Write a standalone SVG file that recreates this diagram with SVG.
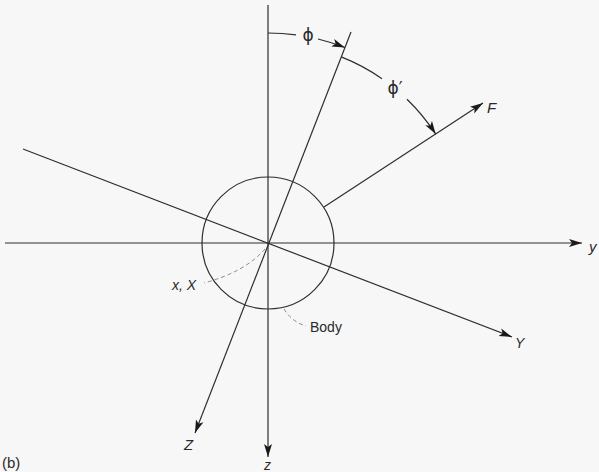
<svg xmlns="http://www.w3.org/2000/svg" width="599" height="472" viewBox="0 0 599 472">
<style>
.ln{fill:none;stroke:#2e2e2e;stroke-width:1.2}
.ds{fill:none;stroke:#8a8a8a;stroke-width:1;stroke-dasharray:4 3}
.t{font-family:"Liberation Sans",Arial,sans-serif;fill:#2a2a2a}
.ph{font-family:"DejaVu Sans",sans-serif;fill:#2a2a2a}
.i{font-style:italic}
</style>
<defs>
<marker id="ah" markerUnits="userSpaceOnUse" markerWidth="14" markerHeight="10" refX="13" refY="4" orient="auto" viewBox="0 0 14 8">
<path d="M0,0 L13,4 L0,8 L3,4 Z" fill="#1a1a1a"/>
</marker>
</defs>
<rect width="599" height="472" fill="#f7f7f7"/>
<g id="connectors">
<line class="ln" x1="268" y1="5" x2="268" y2="457" marker-end="url(#ah)"/>
<line class="ln" x1="5" y1="243" x2="582" y2="243" marker-end="url(#ah)"/>
<line class="ln" x1="351" y1="32" x2="195" y2="433" marker-end="url(#ah)"/>
<line class="ln" x1="23" y1="149" x2="512" y2="337" marker-end="url(#ah)"/>
<line class="ln" x1="324" y1="207" x2="483" y2="103" marker-end="url(#ah)"/>
<path class="ln" d="M268,33 A210,210 0 0 1 296,34.9"/>
<path class="ln" d="M318,39 A210,210 0 0 1 344.9,47.5" marker-end="url(#ah)"/>
<path class="ln" d="M341.2,56.9 A200,200 0 0 1 382,78.7"/>
<path class="ln" d="M407,99.2 A200,200 0 0 1 435.7,134.1" marker-end="url(#ah)"/>
<path class="ds" d="M265,249 Q245,272 204,283"/>
<path class="ds" d="M284,309 Q292,322 306,326"/>
</g>
<g id="body">
<circle class="ln" cx="268" cy="243" r="66"/>
<text class="t" x="310" y="332" font-size="14">Body</text>
</g>
<g id="labels">
<text class="ph" x="308" y="41" font-size="17" text-anchor="middle">ϕ</text>
<text class="ph" x="395" y="94" font-size="17" text-anchor="middle">ϕ′</text>
<text class="t i" x="487" y="113" font-size="15">F</text>
<text class="t i" x="589" y="252" font-size="15">y</text>
<text class="t i" x="515" y="348" font-size="14">Y</text>
<text class="t i" x="184" y="450" font-size="15">Z</text>
<text class="t i" x="264" y="470" font-size="14">z</text>
<text class="t i" x="172" y="290" font-size="14">x, X</text>
<text class="t" x="2" y="468" font-size="15">(b)</text>
</g>
</svg>
